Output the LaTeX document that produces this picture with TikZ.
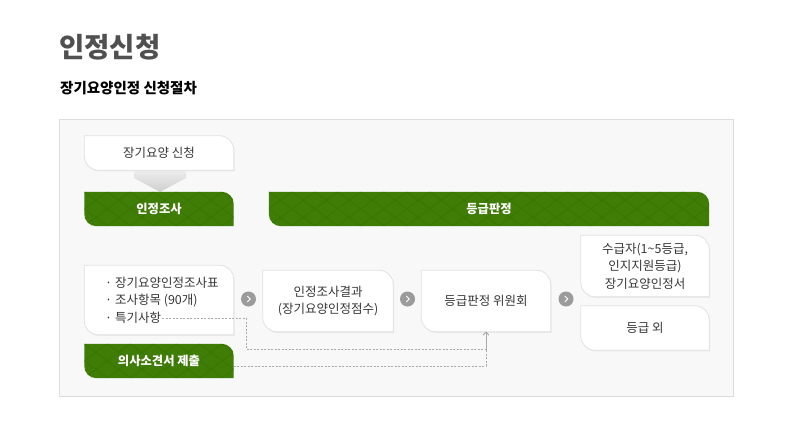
\documentclass[tikz,border=0pt]{standalone}
\usepackage{fontspec}
\setmainfont{Noto Sans CJK KR}
\usetikzlibrary{arrows.meta, positioning, backgrounds}

\definecolor{leafgreen}{HTML}{3F7D06}
\definecolor{leafdark}{HTML}{357003}
\definecolor{boxline}{HTML}{E2E2E2}
\definecolor{shadowgray}{HTML}{EAEAEA}
\definecolor{boxtext}{HTML}{363636}
\definecolor{titlegray}{HTML}{505050}
\definecolor{panelfill}{HTML}{F8F8F8}
\definecolor{panelline}{HTML}{DDDDDD}
\definecolor{dotline}{HTML}{AAAAAA}
\definecolor{nextgray}{HTML}{9B9B9B}

% box with round top right and bottom left corners
\newcommand\leafshape[3][]{%
  \path[#1] (#2.north west) -- ([xshift=-#3]#2.north east)
    arc[start angle=90, end angle=0, radius=#3] -- (#2.south east)
    -- ([xshift=#3]#2.south west) arc[start angle=270, end angle=180, radius=#3] -- cycle;}
\newcommand\greenbar[1]{%
  \leafshape[fill=leafgreen]{#1}{12pt}
  \begin{scope}
    \leafshape[clip]{#1}{12pt}
    \foreach \k in {0,...,22} {
      \draw[leafdark, opacity=.45, line width=1.2pt] ([xshift=\k*23pt-46pt]#1.north west) -- ++(46pt,-34pt)
        ([xshift=\k*23pt]#1.north west) -- ++(-46pt,-34pt);
    }
  \end{scope}}

\begin{document}
\begin{tikzpicture}[x=1pt, y=-1pt,
  box/.style={inner sep=0pt, text=boxtext, align=center, font=\fontsize{12.5}{17.5}\selectfont},
  bar/.style={inner sep=0pt, text=white, font=\bfseries\fontsize{12.3}{14}\selectfont},
  item/.style={anchor=west, inner sep=1pt, text=boxtext, font=\fontsize{12.5}{14}\selectfont},
  nextc/.style={circle, fill=nextgray, minimum size=15pt, inner sep=0pt,
    path picture={\draw[white, line width=.8pt] ([xshift=-1.2pt, yshift=3pt]path picture bounding box.center)
      -- ++(3pt,-3pt) -- ++(-3pt,-3pt);}},
  link/.style={draw=dotline, line width=.6pt, dash pattern=on 2pt off 1.5pt,
    -{Straight Barb[length=3pt, width=6pt]}},
]
\useasboundingbox (0,0) rectangle (798,439);

\node (title) [anchor=west, inner sep=0pt, text=titlegray, font=\bfseries\fontsize{27.5}{32}\selectfont] at (59,47) {인정신청};
\node (subtitle) [anchor=west, inner sep=0pt, font=\bfseries\fontsize{14.5}{17}\selectfont] at (60,88) {장기요양인정 신청절차};

\node (apply) [box, minimum width=149, minimum height=34] at (159,153) {장기요양 신청};
\node (survey) [bar, minimum width=149, minimum height=34] at (159,209) {인정조사};
\node (grade) [bar, minimum width=440, minimum height=34] at (489,209) {등급판정};

\node (sheet) [box, minimum width=149, minimum height=69] at (159,300) {};
\node (item1) [item] at (104,283) {· 장기요양인정조사표};
\node (item2) [item] at (104,301) {· 조사항목 (90개)};
\node (item3) [item] at (104,318) {· 특기사항};
\node (opinion) [bar, minimum width=149, minimum height=34] at (159,361) {의사소견서 제출};

\node (result) [box, minimum width=130, minimum height=61] at (328,301) {인정조사결과\\(장기요양인정점수)};
\node (board) [box, minimum width=129, minimum height=61] at (486,301) {등급판정 위원회};
\node (cert) [box, minimum width=128, minimum height=61] at (645,266) {수급자(1\textasciitilde5등급,\\인지지원등급)\\장기요양인정서};
\node (other) [box, minimum width=128, minimum height=44] at (645,328) {등급 외};

\node (next1) [nextc] at (248.5,299) {};
\node (next2) [nextc] at (407.5,299) {};
\node (next3) [nextc] at (566,299) {};

% dotted route to the committee
\coordinate (jog) at (246,349);
\draw [link] (item3.east) -| (jog) -| (board.south);
\draw [link] ([yshift=-5pt]opinion.east) -| (board.south);

\begin{scope}[on background layer]
  \fill[white] (0,0) rectangle (798,439);
  \draw[panelline, fill=panelfill] (59.5,119.5) rectangle (733,396);
  \shade[top color=gray!12, bottom color=gray!38] (134,168) -- (186,168) -- (186,178) -- (160,192) -- (134,178) -- cycle;
  \foreach \n in {apply, sheet, result, board, cert, other} {
    \begin{scope}[transform canvas={shift={(.8pt,-1.2pt)}}]
      \leafshape[fill=shadowgray]{\n}{14pt}
    \end{scope}
    \leafshape[fill=white, draw=boxline, line width=.8pt]{\n}{14pt}
  }
  \foreach \n in {survey, grade, opinion} {\greenbar{\n}}
\end{scope}
\end{tikzpicture}
\end{document}
